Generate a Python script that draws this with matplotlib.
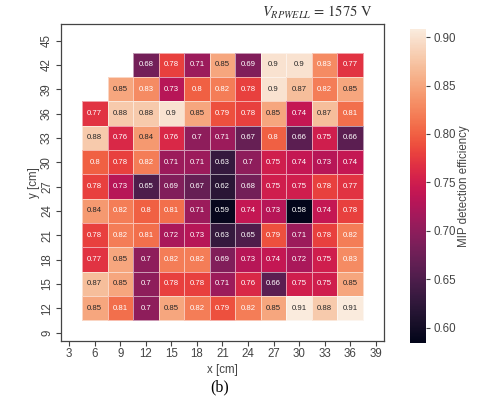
import matplotlib
matplotlib.use("Agg")
import matplotlib.pyplot as plt
import numpy as np
import seaborn as sns

# cell centres [cm]
x_centres = [6, 9, 12, 15, 18, 21, 24, 27, 30, 33, 36]
y_centres = [42, 39, 36, 33, 30, 27, 24, 21, 18, 15, 12]
nan = np.nan

# MIP detection efficiency, rows from top (y=42) to bottom (y=12)
eff_y42 = [nan, nan, 0.68, 0.78, 0.71, 0.85, 0.69, 0.90, 0.90, 0.83, 0.77]
eff_y39 = [nan, 0.85, 0.83, 0.73, 0.80, 0.82, 0.78, 0.90, 0.87, 0.82, 0.85]
eff_y36 = [0.77, 0.88, 0.88, 0.90, 0.85, 0.79, 0.78, 0.85, 0.74, 0.87, 0.81]
eff_y33 = [0.88, 0.76, 0.84, 0.76, 0.70, 0.71, 0.67, 0.80, 0.66, 0.75, 0.66]
eff_y30 = [0.80, 0.78, 0.82, 0.71, 0.71, 0.63, 0.70, 0.75, 0.74, 0.73, 0.74]
eff_y27 = [0.78, 0.73, 0.65, 0.69, 0.67, 0.62, 0.68, 0.75, 0.75, 0.78, 0.77]
eff_y24 = [0.84, 0.82, 0.80, 0.81, 0.71, 0.59, 0.74, 0.73, 0.58, 0.74, 0.78]
eff_y21 = [0.78, 0.82, 0.81, 0.72, 0.73, 0.63, 0.65, 0.79, 0.71, 0.78, 0.82]
eff_y18 = [0.77, 0.85, 0.70, 0.82, 0.82, 0.69, 0.73, 0.74, 0.72, 0.75, 0.83]
eff_y15 = [0.87, 0.85, 0.70, 0.78, 0.78, 0.71, 0.76, 0.66, 0.75, 0.75, 0.85]
eff_y12 = [0.85, 0.81, 0.70, 0.85, 0.82, 0.79, 0.82, 0.85, 0.91, 0.88, 0.91]

eff = np.array([eff_y42, eff_y39, eff_y36, eff_y33, eff_y30, eff_y27,
                eff_y24, eff_y21, eff_y18, eff_y15, eff_y12])

xticks = list(range(3, 40, 3))
yticks = list(range(9, 46, 3))

plt.rcParams["font.family"] = ["Liberation Sans", "DejaVu Sans"]
plt.rcParams["mathtext.fontset"] = "stix"

cmap = sns.color_palette("rocket", as_cmap=True)
vmin, vmax = 0.584, 0.908
grey = "#444444"

fig = plt.figure(figsize=(4.87, 4.01), dpi=100)
ax = fig.add_axes([0.1246, 0.1504, 0.6645, 0.789])
cax = fig.add_axes([0.842, 0.1446, 0.033, 0.782])

# cell edges
xc = np.array(x_centres, dtype=float)
yc = np.array(y_centres, dtype=float)
xe = np.concatenate([xc - 1.5, [xc[-1] + 1.5]])
ye = np.concatenate([yc + 1.5, [yc[-1] - 1.5]])
data = np.ma.masked_invalid(eff)
mesh = ax.pcolormesh(xe, ye, data, cmap=cmap, vmin=vmin, vmax=vmax,
                     edgecolors=(1, 1, 1, 0.55), linewidth=0.45)

# annotations, seaborn-like text colour
norm = plt.Normalize(vmin, vmax)
for i, yv in enumerate(y_centres):
    for j, xv in enumerate(x_centres):
        v = eff[i, j]
        if np.isnan(v):
            continue
        rgb = np.array(cmap(norm(v))[:3])
        rgb = np.where(rgb <= .03928, rgb / 12.92, ((rgb + .055) / 1.055) ** 2.4)
        lum = rgb.dot([.2126, .7152, .0722])
        col = ".15" if lum > .408 else "w"
        ax.text(xv, yv, f"{v:g}", ha="center", va="center", fontsize=5.6, color=col)

ax.set_xlim(2, 40)
ax.set_ylim(8, 47)
ax.set_xticks(xticks)
ax.set_yticks(yticks)
ax.tick_params(axis="both", colors=grey, labelsize=8.3, length=3.5, width=0.8, pad=2)
ax.tick_params(axis="y", labelrotation=90)
for lab in ax.get_yticklabels():
    lab.set_va("center")
for s in ax.spines.values():
    s.set_color(grey)
    s.set_linewidth(0.9)
ax.set_xlabel("x [cm]", fontsize=8.3, color=grey, labelpad=2.5)
ax.set_ylabel("y [cm]", fontsize=8.3, color=grey, labelpad=1)

cb = fig.colorbar(mesh, cax=cax)
cb.outline.set_visible(False)
cb.set_ticks([0.60, 0.65, 0.70, 0.75, 0.80, 0.85, 0.90])
cb.ax.yaxis.set_major_formatter(plt.FormatStrFormatter("%.2f"))
cb.ax.tick_params(colors=grey, labelsize=8.3, length=3, width=0.8, pad=2)
cb.set_label("MIP detection efficiency", fontsize=8.3, color=grey, labelpad=2)

fig.text(0.651, 0.968, r"$V_{RPWELL}$ = 1575 V", ha="center", va="center",
         fontsize=10.5, family="STIXGeneral", color="#333333")
fig.text(0.45, 0.035, "(b)", ha="center", va="center", fontsize=11.5,
         family="Liberation Serif", color="black")

fig.savefig("out.png", dpi=100)
